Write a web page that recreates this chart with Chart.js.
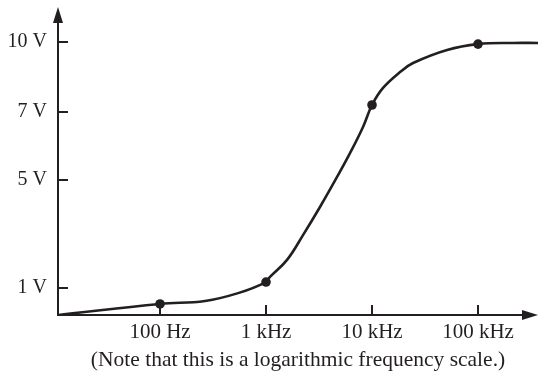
<!DOCTYPE html>
<html>
<head>
<meta charset="utf-8">
<script src="https://cdn.jsdelivr.net/npm/chart.js@4/dist/chart.umd.min.js"></script>
<style>
  html, body { margin: 0; padding: 0; background: #ffffff; }
  canvas { display: block; }
</style>
</head>
<body>
<canvas id="c" width="539" height="378"></canvas>
<script>
// Output voltage versus frequency, sampled along the response curve
const freqHz = [11, 100, 266, 545, 1000, 1090, 1578, 2233, 3228, 4677, 6197, 8222, 10000, 12700, 18370, 24380, 51050, 100000, 213800, 368000];
const volts  = [0, 0.41, 0.52, 0.81, 1.22, 1.41, 2.04, 2.96, 4.0, 5.09, 5.79, 6.56, 7.30, 8.03, 8.71, 9.10, 9.66, 9.91, 9.96, 9.96];

// Marked points at each decade
const markerHz    = [100, 1000, 10000, 100000];
const markerVolts = [0.41, 1.22, 7.30, 9.91];

// Axis ticks
const xTickValues = [100, 1000, 10000, 100000];
const xTickLabels = ['100 Hz', '1 kHz', '10 kHz', '100 kHz'];
const yTickValues = [1, 5, 7, 10];
const yTickLabels = ['1 V', '5 V', '7 V', '10 V'];

const caption = '(Note that this is a logarithmic frequency scale.)';

const INK = '#231f20';
const SERIF = '"Liberation Serif", "Times New Roman", serif';

// The voltage axis is drawn in bands: each voltage band gets its own share of the axis height.
const bandVolts = [0, 1, 5, 7, 10, 11.5];
const bandSpan  = [0, 27, 135, 203, 273, 308];

class BandedScale extends Chart.LinearScale {
  static id = 'banded';
  static defaults = Chart.LinearScale.defaults;

  _toDecimal(v) {
    const last = bandSpan[bandSpan.length - 1];
    if (v <= bandVolts[0]) return 0;
    for (let i = 0; i < bandVolts.length - 1; i++) {
      if (v <= bandVolts[i + 1]) {
        const t = (v - bandVolts[i]) / (bandVolts[i + 1] - bandVolts[i]);
        return (bandSpan[i] + t * (bandSpan[i + 1] - bandSpan[i])) / last;
      }
    }
    return 1;
  }
  getPixelForValue(value) {
    return this.getPixelForDecimal(this._toDecimal(value));
  }
  getValueForPixel(pixel) {
    const last = bandSpan[bandSpan.length - 1];
    const s = this.getDecimalForPixel(pixel) * last;
    for (let i = 0; i < bandSpan.length - 1; i++) {
      if (s <= bandSpan[i + 1]) {
        const t = (s - bandSpan[i]) / (bandSpan[i + 1] - bandSpan[i]);
        return bandVolts[i] + t * (bandVolts[i + 1] - bandVolts[i]);
      }
    }
    return bandVolts[bandVolts.length - 1];
  }
}
Chart.register(BandedScale);

// Axis lines with arrowheads and inward tick marks
const arrowAxes = {
  id: 'arrowAxes',
  beforeDatasetsDraw(chart) {
    const { ctx, chartArea: a, scales } = chart;
    const xs = scales.x, ys = scales.y;
    ctx.save();
    ctx.strokeStyle = INK;
    ctx.fillStyle = INK;
    ctx.lineWidth = 2;
    ctx.lineCap = 'butt';

    ctx.beginPath();
    ctx.moveTo(a.left, a.bottom + 1);
    ctx.lineTo(a.left, a.top + 12);
    ctx.moveTo(a.left - 1, a.bottom);
    ctx.lineTo(a.right - 12, a.bottom);
    ctx.stroke();

    // arrowheads
    ctx.beginPath();
    ctx.moveTo(a.left, a.top);
    ctx.lineTo(a.left - 5, a.top + 16);
    ctx.lineTo(a.left + 5, a.top + 16);
    ctx.closePath();
    ctx.fill();
    ctx.beginPath();
    ctx.moveTo(a.right, a.bottom);
    ctx.lineTo(a.right - 16, a.bottom - 5);
    ctx.lineTo(a.right - 16, a.bottom + 5);
    ctx.closePath();
    ctx.fill();

    // tick marks
    ctx.beginPath();
    yTickValues.forEach(v => {
      const y = Math.round(ys.getPixelForValue(v));
      ctx.moveTo(a.left, y);
      ctx.lineTo(a.left + 10, y);
    });
    xTickValues.forEach(v => {
      const x = Math.round(xs.getPixelForValue(v));
      ctx.moveTo(x, a.bottom);
      ctx.lineTo(x, a.bottom - 10);
    });
    ctx.stroke();
    ctx.restore();
  }
};

new Chart(document.getElementById('c'), {
  type: 'line',
  data: {
    datasets: [
      {
        data: freqHz.map((f, i) => ({ x: f, y: volts[i] })),
        borderColor: INK,
        borderWidth: 2.6,
        pointRadius: 0,
        tension: 0.4,
        fill: false
      },
      {
        data: markerHz.map((f, i) => ({ x: f, y: markerVolts[i] })),
        showLine: false,
        pointRadius: 4.8,
        pointBackgroundColor: INK,
        pointBorderWidth: 0
      }
    ]
  },
  options: {
    responsive: false,
    animation: false,
    devicePixelRatio: 1,
    layout: { autoPadding: false, padding: { top: 7, right: 1, left: 0, bottom: 0 } },
    plugins: { legend: { display: false }, tooltip: { enabled: false } },
    scales: {
      x: {
        type: 'logarithmic',
        min: 10.9,
        max: 368000,
        afterBuildTicks: s => { s.ticks = xTickValues.map(v => ({ value: v })); },
        afterFit: s => {
          s.height = 63;
          s.paddingLeft = 0;
          s.paddingRight = 0;
        },
        ticks: {
          callback: (v, i) => xTickLabels[i],
          autoSkip: false,
          maxRotation: 0,
          padding: 5,
          font: { family: SERIF, size: 21 },
          color: INK
        },
        grid: { display: false, drawTicks: false },
        border: { display: false },
        title: {
          display: true,
          text: caption,
          font: { family: SERIF, size: 21.5 },
          color: INK,
          padding: { top: 0, bottom: 5 }
        }
      },
      y: {
        type: 'banded',
        min: 0,
        max: 11.5,
        afterBuildTicks: s => { s.ticks = yTickValues.map(v => ({ value: v })); },
        afterFit: s => {
          s.width = 58;
          s.paddingTop = 0;
          s.paddingBottom = 0;
        },
        ticks: {
          callback: (v, i) => yTickLabels[i],
          autoSkip: false,
          padding: 11,
          font: { family: SERIF, size: 20 },
          color: INK
        },
        grid: { display: false, drawTicks: false },
        border: { display: false }
      }
    }
  },
  plugins: [arrowAxes]
});
</script>
</body>
</html>
